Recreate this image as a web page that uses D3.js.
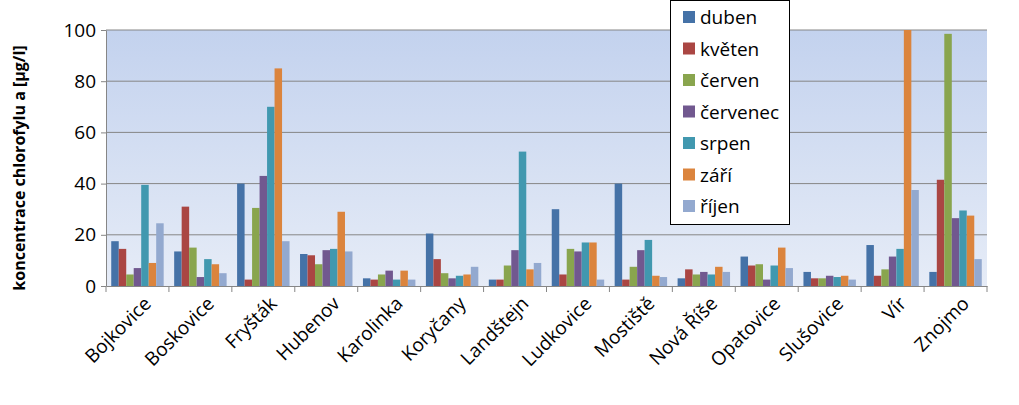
<!DOCTYPE html><html><head><meta charset="utf-8"><script src="https://cdn.jsdelivr.net/npm/d3@7"></script>
<style>body{margin:0;background:#fff}</style></head><body><svg id="c" width="1019" height="405"></svg><script>
const categories=["Bojkovice","Boskovice","Fryšták","Hubenov","Karolinka","Koryčany","Landštejn","Ludkovice","Mostiště","Nová Říše","Opatovice","Slušovice","Vír","Znojmo"];
const seriesNames=["duben","květen","červen","červenec","srpen","září","říjen"];
const colors=["#4572a7","#aa4643","#89a54e","#71588f","#4198af","#db843d","#93a9cf"];
const duben=[17.5,13.5,40,12.5,3,20.5,2.5,30,40,3,11.5,5.5,16,5.5];
const kveten=[14.5,31,2.5,12,2.5,10.5,2.5,4.5,2.5,6.5,8,3,4,41.5];
const cerven=[4.5,15,30.5,8.5,4.5,5,8,14.5,7.5,4.5,8.5,3,6.5,98.5];
const cervenec=[7,3.5,43,14,6,3,14,13.5,14,5.5,2.5,4,11.5,26.5];
const srpen=[39.5,10.5,70,14.5,2.5,4,52.5,17,18,4.5,8,3.5,14.5,29.5];
const zari=[9,8.5,85,29,6,4.5,6.5,17,4,7.5,15,4,100,27.5];
const rijen=[24.5,5,17.5,13.5,2.5,7.5,9,2.5,3.5,5.5,7,2.5,37.5,10.5];
const series=[duben,kveten,cerven,cervenec,srpen,zari,rijen];
const yTicks=[0,20,40,60,80,100];
const svg=d3.select("#c");
const L=106,R=987,T=30,B=286;
const F="Open Sans,Liberation Sans,Arial";
const x=d3.scaleBand().domain(categories).range([L,R]);
const xi=d3.scaleBand().domain(d3.range(7)).range([0,x.bandwidth()]).paddingOuter(0.7);
const y=d3.scaleLinear().domain([0,100]).range([B,T]);
const g=svg.append("defs").append("linearGradient").attr("id","bg").attr("x1",0).attr("y1",0).attr("x2",0).attr("y2",1);
g.append("stop").attr("offset",0).attr("stop-color","#c3d2ee");
g.append("stop").attr("offset",1).attr("stop-color","#e6ecf7");
svg.append("rect").attr("x",L).attr("y",T).attr("width",R-L).attr("height",B-T).attr("fill","url(#bg)");
svg.append("g").selectAll("line").data(yTicks.slice(1)).join("line").attr("x1",L).attr("x2",R).attr("y1",d=>y(d)).attr("y2",d=>y(d)).attr("stroke","#868686");
series.forEach((s,i)=>{svg.append("g").selectAll("rect").data(s).join("rect").attr("x",(d,j)=>x(categories[j])+xi(i)).attr("width",xi.bandwidth()).attr("y",d=>y(d)).attr("height",d=>B-y(d)).attr("fill",colors[i]);});
const ya=svg.append("g").attr("transform",`translate(${L},0)`).call(d3.axisLeft(y).tickValues(yTicks).tickSize(5).tickSizeOuter(0));
ya.selectAll("text").attr("font-size",19).attr("font-family",F).attr("fill","#000").attr("dx",-2);
ya.select(".domain").attr("stroke","#868686");ya.selectAll(".tick line").attr("stroke","#868686");
const xa=svg.append("g").attr("transform",`translate(0,${B})`).call(d3.axisBottom(x).tickSize(0).tickSizeOuter(0));
xa.select(".domain").attr("stroke","#868686");
xa.selectAll("text").attr("font-size",19).attr("font-family",F).attr("fill","#000").attr("text-anchor","end").attr("transform","translate(8,12) rotate(-45)").attr("dy","0.35em").attr("dx",0);
svg.append("g").selectAll("line").data(d3.range(15)).join("line").attr("x1",d=>L+d*x.step()).attr("x2",d=>L+d*x.step()).attr("y1",B).attr("y2",B+6).attr("stroke","#868686");
svg.append("text").attr("transform",`translate(25,${(T+B)/2+10}) rotate(-90)`).attr("text-anchor","middle").attr("font-size",16).attr("font-weight","bold").attr("font-family",F).text("koncentrace chlorofylu a [µg/l]");
const lg=svg.append("g");
lg.append("rect").attr("x",670.5).attr("y",0.5).attr("width",119).attr("height",224).attr("fill","#fff").attr("stroke","#000");
seriesNames.forEach((n,i)=>{const yy=17+i*31.5;lg.append("rect").attr("x",683).attr("y",yy-6).attr("width",12).attr("height",12).attr("fill",colors[i]);lg.append("text").attr("x",700).attr("y",yy+7).attr("font-size",19).attr("font-family",F).text(n);});
</script></body></html>
